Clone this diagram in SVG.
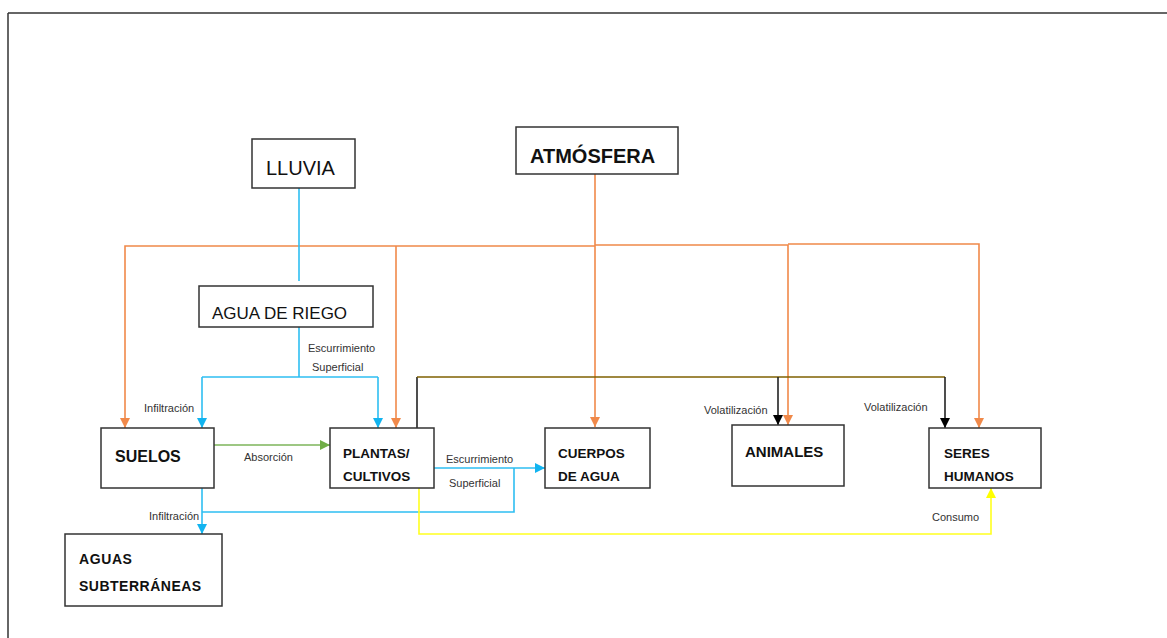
<svg xmlns="http://www.w3.org/2000/svg" width="1167" height="638" viewBox="0 0 1167 638">
<style>
.box{fill:#fff;stroke:#333;stroke-width:1.5}
.t{font-family:"Liberation Sans",Arial,sans-serif;fill:#111}
.b{font-weight:bold}
.lbl{font-family:"Liberation Sans",Arial,sans-serif;font-size:11px;fill:#333}
.c{fill:none;stroke-width:1.6}
.or{stroke:#F0894A}
.bl{stroke:#2EBEF2}
.gr{stroke:#7DB55A}
.yl{stroke:#FFFF20}
.ol{stroke:#7F6000}
.bk{stroke:#222}
</style>
<defs>
<marker id="aO" markerUnits="userSpaceOnUse" markerWidth="12" markerHeight="10" refX="10" refY="5" orient="auto"><path d="M0,0 L10,5 L0,10 Z" fill="#F0894A"/></marker>
<marker id="aB" markerUnits="userSpaceOnUse" markerWidth="12" markerHeight="10" refX="10" refY="5" orient="auto"><path d="M0,0 L10,5 L0,10 Z" fill="#12B4F0"/></marker>
<marker id="aG" markerUnits="userSpaceOnUse" markerWidth="12" markerHeight="10" refX="10" refY="5" orient="auto"><path d="M0,0 L10,5 L0,10 Z" fill="#70AD47"/></marker>
<marker id="aY" markerUnits="userSpaceOnUse" markerWidth="12" markerHeight="10" refX="10" refY="5" orient="auto"><path d="M0,0 L10,5 L0,10 Z" fill="#FFFF00"/></marker>
<marker id="aK" markerUnits="userSpaceOnUse" markerWidth="12" markerHeight="10" refX="10" refY="5" orient="auto"><path d="M0,0 L10,5 L0,10 Z" fill="#000"/></marker>
</defs>
<rect width="1167" height="638" fill="#fff"/>
<g id="frame" fill="none" stroke="#333" stroke-width="1.5">
<path d="M8,13 H1167"/>
<path d="M8,13 V638"/>
</g>
<g id="connectors">
<path class="c or" d="M595,174 V427" marker-end="url(#aO)"/>
<path class="c or" d="M595,246 H125 V428" marker-end="url(#aO)"/>
<path class="c or" d="M396,246 V428" marker-end="url(#aO)"/>
<path class="c or" d="M595,245 H788 V425" marker-end="url(#aO)"/>
<path class="c or" d="M788,244 H979 V428" marker-end="url(#aO)"/>
<path class="c bl" d="M299,188 V281"/>
<path class="c bl" d="M299,327 V377"/>
<path class="c bl" d="M202,377 H378"/>
<path class="c bl" d="M202,377 V428" marker-end="url(#aB)"/>
<path class="c bl" d="M378,377 V428" marker-end="url(#aB)"/>
<path class="c bl" d="M434,468 H545" marker-end="url(#aB)"/>
<path class="c bl" d="M514,468 V512 H202"/>
<path class="c bl" d="M202,488 V534" marker-end="url(#aB)"/>
<path class="c gr" d="M214,445 H330" marker-end="url(#aG)"/>
<path class="c bk" d="M417,428 V377"/>
<path class="c ol" d="M417,377 H945"/>
<path class="c bk" d="M778,377 V425" marker-end="url(#aK)"/>
<path class="c bk" d="M945,377 V428" marker-end="url(#aK)"/>
<path class="c yl" d="M419,488 V534 H991 V488" marker-end="url(#aY)"/>
</g>
<g id="labels">
<text class="lbl" x="308" y="352">Escurrimiento</text>
<text class="lbl" x="312" y="371">Superficial</text>
<text class="lbl" x="144" y="412">Infiltración</text>
<text class="lbl" x="149" y="520">Infiltración</text>
<text class="lbl" x="244" y="461">Absorción</text>
<text class="lbl" x="446" y="463">Escurrimiento</text>
<text class="lbl" x="449" y="487">Superficial</text>
<text class="lbl" x="704" y="414">Volatilización</text>
<text class="lbl" x="864" y="411">Volatilización</text>
<text class="lbl" x="932" y="521">Consumo</text>
</g>
<g id="lluvia">
<rect class="box" x="252" y="139" width="103" height="49"/>
<text class="t" x="266" y="175" font-size="20">LLUVIA</text>
</g>
<g id="atmosfera">
<rect class="box" x="516" y="127" width="162" height="47"/>
<text class="t b" x="530" y="163" font-size="20">ATMÓSFERA</text>
</g>
<g id="agua-de-riego">
<rect class="box" x="199" y="286" width="174" height="41"/>
<text class="t" x="212" y="319" font-size="17">AGUA DE RIEGO</text>
</g>
<g id="suelos">
<rect class="box" x="101" y="428" width="113" height="60"/>
<text class="t b" x="115" y="462" font-size="16">SUELOS</text>
</g>
<g id="plantas">
<rect class="box" x="330" y="428" width="104" height="60"/>
<text class="t b" x="343" y="458" font-size="13.5">PLANTAS/</text>
<text class="t b" x="343" y="481" font-size="13.5">CULTIVOS</text>
</g>
<g id="cuerpos-de-agua">
<rect class="box" x="545" y="428" width="105" height="60"/>
<text class="t b" x="558" y="458" font-size="13.5">CUERPOS</text>
<text class="t b" x="558" y="481" font-size="13.5">DE AGUA</text>
</g>
<g id="animales">
<rect class="box" x="732" y="425" width="112" height="61"/>
<text class="t b" x="745" y="457" font-size="15">ANIMALES</text>
</g>
<g id="seres-humanos">
<rect class="box" x="929" y="428" width="112" height="60"/>
<text class="t b" x="944" y="458" font-size="13.5">SERES</text>
<text class="t b" x="944" y="481" font-size="13.5">HUMANOS</text>
</g>
<g id="aguas-subterraneas">
<rect class="box" x="65" y="534" width="157" height="72"/>
<text class="t b" x="79" y="564" font-size="14" letter-spacing="0.6">AGUAS</text>
<text class="t b" x="79" y="591" font-size="14" letter-spacing="0.5">SUBTERRÁNEAS</text>
</g>
</svg>
